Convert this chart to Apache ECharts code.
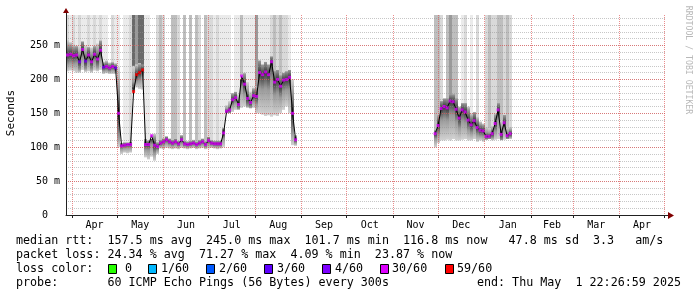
<!DOCTYPE html>
<html><head><meta charset="utf-8">
<script src="https://cdn.jsdelivr.net/npm/echarts@6/dist/echarts.min.js"></script>
<style>html,body{margin:0;padding:0;background:#fff}#c{width:697px;height:297px}</style>
</head><body><div id="c"></div>
<script>
// ---------------- data ----------------
const startTime = '2024-03-27T22:27:00Z';
const endTime = '2025-05-01T22:27:00Z';
const yMax = 295;
const yLabelTicks = [0, 50, 100, 150, 200, 250];
const monthStarts = ['2024-04-01','2024-05-01','2024-06-01','2024-07-01','2024-08-01','2024-09-01','2024-10-01',
  '2024-11-01','2024-12-01','2025-01-01','2025-02-01','2025-03-01','2025-04-01','2025-05-01'];
const monthLabels = ['Apr','May','Jun','Jul','Aug','Sep','Oct','Nov','Dec','Jan','Feb','Mar','Apr'];
const sampleDays = 2;

// segment A: from 2024-03-29, one sample every 2 days (values in ms)
const segAStart = '2024-03-29';
const segAMedian = [236,237,235,236,226,244,227,236,226,237,230,243,218,219,217,219,217,150,102,103,
  104,104,182,207,210,214,104,104,117,103,101,106,108,111,108,106,108,105,111,105,
  104,105,106,104,106,108,104,110,106,105,105,105,121,153,155,170,173,163,205,193,
  172,166,176,175,210,207,211,207,226,196,200,190,199,200,203,150,111];
const segALow = [212,213,212,210,210,214,211,212,210,213,212,214,208,209,208,208,208,100,90,92,
  91,92,186,188,186,185,85,82,86,80,90,98,97,99,98,97,98,97,99,98,
  97,98,99,97,98,99,97,98,99,98,97,98,100,150,150,152,155,155,158,160,
  158,157,158,150,150,148,146,147,145,147,146,150,155,160,150,103,102];
const segAHigh = [258,255,252,250,248,256,250,248,247,250,253,258,226,228,225,226,224,218,106,107,
  107,108,220,222,224,222,112,110,112,120,108,112,113,116,113,111,113,110,118,110,
  109,110,111,109,111,113,110,115,111,110,110,110,128,162,168,180,182,178,200,210,
  196,182,188,190,228,222,226,222,234,212,214,206,210,212,214,200,118];
const segALoss = [30,30,30,30,4,30,4,30,30,30,30,30,4,30,30,30,4,30,30,30,
  30,30,59,59,59,59,30,30,30,30,30,30,30,30,30,30,30,30,30,30,
  30,30,30,30,30,30,30,30,30,30,30,30,30,30,30,30,30,30,30,30,
  30,30,30,30,30,30,30,30,30,30,30,30,30,30,30,30,30];
const segASpike = [2,1,2,1,2,1,1,2,1,2,1,2,1,1,0,2,1,1,0,1,
  1,2,5,4,5,5,1,1,0,0,2,3,2,0,0,3,3,2,0,3,
  0,3,0,3,2,0,3,2,2,1,2,1,1,1,1,0,1,1,3,1,
  1,1,1,4,1,1,1,1,2,3,2,3,2,2,1,0,0];

// segment B: from 2024-11-29
const segBStart = '2024-11-29';
const segBMedian = [120,132,157,160,158,168,167,156,143,155,152,140,133,139,129,125,124,116,116,120,135,155,119,136,117,120];
const segBLow = [100,106,110,110,111,110,112,110,110,111,112,110,110,112,108,110,108,111,112,110,111,112,110,111,112,112];
const segBHigh = [125,150,168,172,172,178,178,172,160,165,165,160,150,152,145,138,135,130,128,132,150,165,140,148,130,130];
const segBLoss = [30,30,30,30,30,30,30,30,30,30,30,30,30,30,30,30,30,30,30,30,30,30,30,30,30,30];
const segBSpike = [3,3,2,0,3,4,3,3,0,1,2,0,1,0,2,0,0,2,3,2,2,3,3,2,3,2];

const lossThresholds = [0, 1, 2, 3, 4, 30, 59];
const lossLabels = ['0', '1/60', '2/60', '3/60', '4/60', '30/60', '59/60'];
const lossColors = ['#26ff00', '#00b8ff', '#0059ff', '#5e00ff', '#7e00ff', '#dd00ff', '#ff0000'];

const statsLines = [
  'median rtt:  157.5 ms avg  245.0 ms max  101.7 ms min  116.8 ms now   47.8 ms sd  3.3   am/s',
  'packet loss: 24.34 % avg  71.27 % max  4.09 % min  23.87 % now',
  'loss color:',
  'probe:       60 ICMP Echo Pings (56 Bytes) every 300s'
];
const endText = 'end: Thu May  1 22:26:59 2025';
const axisTitle = 'Seconds';
const watermark = 'RRDTOOL / TOBI OETIKER';

// ---------------- build ----------------
const DAY = 86400000;
const STEP = sampleDays * DAY;
const t0 = Date.parse(startTime), t1 = Date.parse(endTime);
const monthStartMs = monthStarts.map(s => Date.parse(s));
const monthMidMs = monthLabels.map((_, i) => (monthStartMs[i] + monthStartMs[i + 1]) / 2);
const midLabel = new Map(monthMidMs.map((v, i) => [v, monthLabels[i]]));

function build(start, med, lo, hi, loss, spike) {
  const s = Date.parse(start);
  return med.map((v, i) => ({ t: s + i * STEP, med: v, lo: lo[i], hi: hi[i], loss: loss[i], spike: spike[i] }));
}
const segA = build(segAStart, segAMedian, segALow, segAHigh, segALoss, segASpike);
const segB = build(segBStart, segBMedian, segBLow, segBHigh, segBLoss, segBSpike);
const all = segA.concat(segB);

function lossColor(l) {
  let c = lossColors[0];
  lossThresholds.forEach((th, k) => { if (l >= th) c = lossColors[k]; });
  return c;
}
const spikeShades = [null, '#ebebeb', '#d9d9d9', '#bebebe', '#9a9a9a', '#6a6a6a'];
const clamp = v => Math.max(0, Math.min(1, v));

function rectFor(api, t, yTop, yBot) {
  const a = api.coord([t - STEP / 2, yTop]);
  const b = api.coord([t + STEP / 2, yBot]);
  const x0 = Math.round(a[0]), x1 = Math.round(b[0]);
  return { x: x0, y: a[1], width: x1 - x0, height: b[1] - a[1] };
}

const MONO = '"DejaVu Sans Mono", monospace';
const chart = echarts.init(document.getElementById('c'));

const graphics = [];
// axis arrows
graphics.push({ type: 'polygon', shape: { points: [[63, 13], [69, 13], [66, 8]] }, style: { fill: '#800000' }, z: 20 });
graphics.push({ type: 'line', shape: { x1: 666, y1: 215.5, x2: 669, y2: 215.5 }, style: { stroke: '#212121', lineWidth: 1 }, z: 20 });
graphics.push({ type: 'polygon', shape: { points: [[668, 212], [668, 219], [674, 215.5]] }, style: { fill: '#800000' }, z: 20 });
graphics.push({ type: 'line', shape: { x1: 66.5, y1: 13, x2: 66.5, y2: 15 }, style: { stroke: '#212121', lineWidth: 1 }, z: 20 });
// titles
graphics.push({ type: 'text', x: 11, y: 113, rotation: Math.PI / 2,
  style: { text: axisTitle, fontFamily: MONO, fontSize: 11, fill: '#000', align: 'center', verticalAlign: 'middle' } });
graphics.push({ type: 'text', x: 688, y: 60, rotation: -Math.PI / 2,
  style: { text: watermark, fontFamily: MONO, fontSize: 8.2, fill: '#b8b8b8', align: 'center', verticalAlign: 'middle' } });
// stats lines
const lineY = [241, 255, 269, 283];
statsLines.forEach((s, i) => {
  graphics.push({ type: 'text', x: 16, y: lineY[i],
    style: { text: s, fontFamily: MONO, fontSize: 11.7, fill: '#000', verticalAlign: 'middle' } });
});
graphics.push({ type: 'text', x: 681, y: lineY[3],
  style: { text: endText, fontFamily: MONO, fontSize: 11.7, fill: '#000', align: 'right', verticalAlign: 'middle' } });
// loss colour legend
const boxX = [108, 148, 206, 264, 322, 380, 445];
const txtX = [125, 161, 219, 277, 335, 392, 457];
lossLabels.forEach((lab, i) => {
  graphics.push({ type: 'rect', shape: { x: boxX[i] + 0.5, y: 264.5, width: 8, height: 9 },
    style: { fill: lossColors[i], stroke: '#000', lineWidth: 1 } });
  graphics.push({ type: 'text', x: txtX[i], y: lineY[2],
    style: { text: lab, fontFamily: MONO, fontSize: 11.7, fill: '#000', verticalAlign: 'middle' } });
});

const gridMinor = { color: 'rgba(143,143,143,0.5)', type: [1, 1], width: 1 };
const gridMajor = { color: 'rgba(224,80,80,0.65)', type: [1, 1], width: 1 };

chart.setOption({
  animation: false,
  backgroundColor: '#fff',
  grid: { left: 66, right: 31, top: 15, bottom: 82 },
  xAxis: {
    type: 'value', min: t0, max: t1, z: 3,
    axisLine: { show: true, lineStyle: { color: '#212121', width: 1 } },
    axisTick: { show: true, customValues: monthStartMs, length: 3, lineStyle: { color: '#212121' } },
    axisLabel: { customValues: monthMidMs, formatter: v => midLabel.get(v) || '', fontFamily: MONO, fontSize: 10, color: '#000', margin: 5 },
    splitLine: { show: true, lineStyle: gridMajor }
  },
  yAxis: [
    {
      type: 'value', min: 0, max: yMax, interval: 10, z: 3,
      axisLine: { show: false }, axisTick: { show: false }, axisLabel: { show: false },
      splitLine: { show: true, showMaxLine: false, lineStyle: gridMinor }
    },
    {
      type: 'value', min: 0, max: yMax, interval: 50, z: 3, position: 'left',
      axisLine: { show: true, lineStyle: { color: '#212121', width: 1 } },
      axisTick: { show: false },
      axisLabel: { fontFamily: MONO, fontSize: 10, color: '#000', margin: 6, showMaxLabel: false,
        formatter: v => (yLabelTicks.indexOf(v) < 0 ? '' : (v === 0 ? '0  ' : v + ' m')) },
      splitLine: { show: true, showMaxLine: false, showMinLine: false, lineStyle: gridMajor }
    }
  ],
  graphic: graphics,
  series: [
    {
      name: 'spikes', type: 'custom', z: 1, yAxisIndex: 0, clip: true,
      data: all.filter(d => d.spike > 0).map(d => [d.t, d.spike, d.med]),
      encode: { x: 0, y: 2 },
      renderItem: (params, api) => {
        const t = api.value(0), lvl = api.value(1), base = api.value(2);
        return { type: 'rect', shape: rectFor(api, t, yMax, base), style: { fill: spikeShades[lvl] } };
      }
    },
    {
      name: 'smoke', type: 'custom', z: 2, yAxisIndex: 0, clip: true,
      data: all.map(d => [d.t, d.lo, d.hi, d.med]),
      encode: { x: 0, y: [1, 2] },
      renderItem: (params, api) => {
        const t = api.value(0), lo = api.value(1), hi = api.value(2), med = api.value(3);
        const m = clamp((hi - med) / (hi - lo));
        const stops = [
          { offset: 0, color: '#d2d2d2' },
          { offset: clamp(m - 0.3), color: '#9a9a9a' },
          { offset: m, color: '#3a3a3a' },
          { offset: Math.max(m, clamp(m + 0.3)), color: '#9a9a9a' },
          { offset: 1, color: '#d2d2d2' }
        ];
        return { type: 'rect', shape: rectFor(api, t, hi, lo),
          style: { fill: { type: 'linear', x: 0, y: 0, x2: 0, y2: 1, colorStops: stops } } };
      }
    },
    {
      name: 'median A', type: 'line', z: 4, yAxisIndex: 0, showSymbol: false,
      lineStyle: { color: '#000', width: 1 }, data: segA.map(d => [d.t, d.med])
    },
    {
      name: 'median B', type: 'line', z: 4, yAxisIndex: 0, showSymbol: false,
      lineStyle: { color: '#000', width: 1 }, data: segB.map(d => [d.t, d.med])
    },
    {
      name: 'loss', type: 'scatter', z: 5, yAxisIndex: 0, symbol: 'rect', symbolSize: 3,
      data: all.map(d => ({ value: [d.t, d.med], itemStyle: { color: lossColor(d.loss) } }))
    }
  ]
});
</script>
</body></html>
